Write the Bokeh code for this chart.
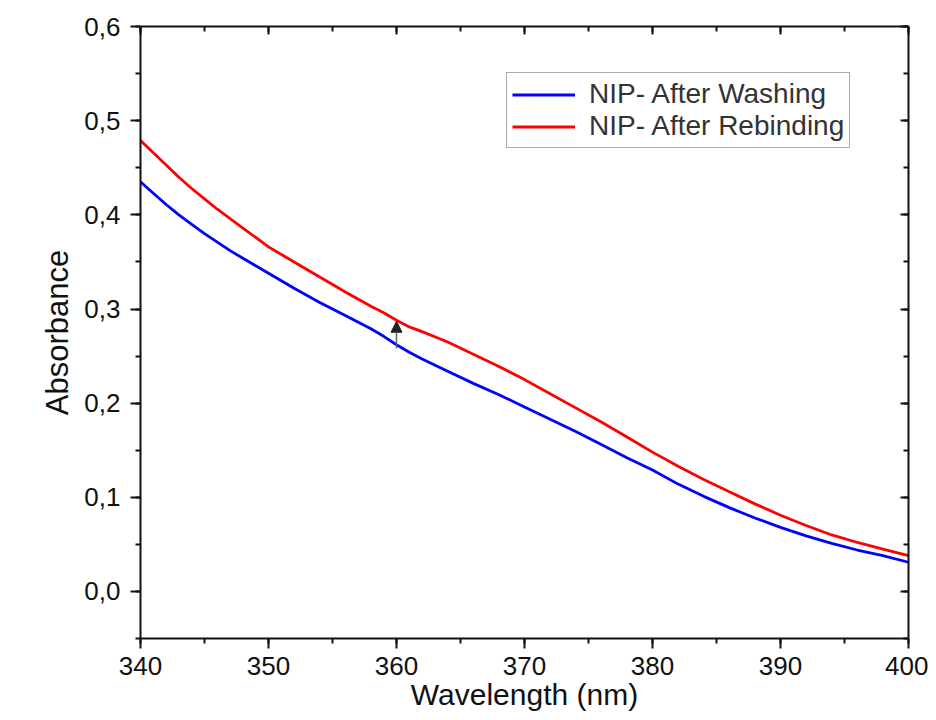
from bokeh.plotting import figure
from bokeh.models import (ColumnDataSource, Range1d, LinearAxis, SingleIntervalTicker,
                          CustomJSTickFormatter, Legend, LegendItem, Arrow, NormalHead)
from bokeh.embed import file_html
from bokeh.resources import INLINE

# ---- data ----
wavelength = [340, 341, 342, 343, 344, 345, 346, 347, 348, 349, 350, 352, 354, 356, 358, 359,
              360, 361, 362, 364, 366, 368, 370, 372, 374, 376, 378, 380, 382, 384, 386, 388,
              390, 392, 394, 396, 398, 400]
after_washing = [0.435, 0.423, 0.411, 0.400, 0.390, 0.380, 0.371, 0.362, 0.354, 0.346, 0.338,
                 0.322, 0.307, 0.293, 0.279, 0.271, 0.262, 0.254, 0.247, 0.234, 0.221, 0.209,
                 0.196, 0.183, 0.170, 0.156, 0.142, 0.129, 0.114, 0.101, 0.089, 0.078, 0.068,
                 0.059, 0.051, 0.044, 0.038, 0.031]
after_rebinding = [0.479, 0.466, 0.453, 0.440, 0.428, 0.417, 0.406, 0.396, 0.386, 0.376, 0.366,
                   0.350, 0.334, 0.318, 0.303, 0.296, 0.288, 0.281, 0.276, 0.265, 0.252, 0.239,
                   0.225, 0.210, 0.195, 0.180, 0.164, 0.148, 0.133, 0.119, 0.106, 0.093, 0.081,
                   0.070, 0.060, 0.052, 0.045, 0.038]
series_names = ["NIP- After Washing", "NIP- After Rebinding"]
arrow_x = 360
arrow_from = 0.258
arrow_to = 0.287

x_ticks_interval = 10
y_ticks_interval = 0.1

FONT = "Liberation Sans"

src = ColumnDataSource(dict(x=wavelength, wash=after_washing, rebind=after_rebinding))

p = figure(width=928, height=713, output_backend="svg", toolbar_location=None,
           x_range=Range1d(340, 400), y_range=Range1d(-0.05, 0.6001),
           min_border_left=140, min_border_right=20, min_border_top=26, min_border_bottom=60)
p.background_fill_color = "white"
p.border_fill_color = "white"
p.outline_line_color = None
p.xgrid.visible = False
p.ygrid.visible = False

r_wash = p.line("x", "wash", source=src, line_color="#0000FF", line_width=2.8)
r_reb = p.line("x", "rebind", source=src, line_color="#FF0000", line_width=2.8)

fmt = CustomJSTickFormatter(code="return tick.toFixed(1).replace('.', ',');")
xfmt = CustomJSTickFormatter(code="return tick.toFixed(0);")


def style_axis(ax, labels=True):
    ax.axis_line_width = 2
    ax.axis_line_color = "#111111"
    ax.major_tick_line_width = 2
    ax.minor_tick_line_width = 2
    ax.major_tick_line_color = "#111111"
    ax.minor_tick_line_color = "#111111"
    if labels:
        ax.major_tick_out = 10
        ax.major_tick_in = 0
        ax.minor_tick_out = 5
        ax.minor_tick_in = 0
        ax.major_label_text_font = FONT
        ax.major_label_text_font_size = "26px"
        ax.major_label_text_color = "#111111"
        ax.major_label_standoff = 8
        ax.axis_label_text_font = FONT
        ax.axis_label_text_font_size = "31px"
        ax.axis_label_text_font_style = "normal"
        ax.axis_label_text_color = "#111111"
    else:
        ax.major_tick_out = 0
        ax.major_tick_in = 8
        ax.minor_tick_out = 0
        ax.minor_tick_in = 5
        ax.major_label_text_font_size = "1px"
        ax.major_label_text_color = None
        ax.major_label_standoff = 0


xax = p.xaxis[0]
xax.ticker = SingleIntervalTicker(interval=x_ticks_interval, num_minor_ticks=2)
xax.formatter = xfmt
xax.axis_label = "Wavelength (nm)"
style_axis(xax)
xax.major_label_standoff = 8
xax.axis_label_standoff = 0
xax.axis_label_text_font_size = "30px"

yax = p.yaxis[0]
yax.ticker = SingleIntervalTicker(interval=y_ticks_interval, num_minor_ticks=2)
yax.formatter = fmt
yax.axis_label = "Absorbance"
style_axis(yax)
yax.major_label_standoff = 10
yax.axis_label_standoff = 6

top = LinearAxis(ticker=SingleIntervalTicker(interval=x_ticks_interval, num_minor_ticks=2))
style_axis(top, labels=False)
p.add_layout(top, "above")
right = LinearAxis(ticker=SingleIntervalTicker(interval=y_ticks_interval, num_minor_ticks=2))
style_axis(right, labels=False)
p.add_layout(right, "right")

p.add_layout(Arrow(end=NormalHead(size=11, fill_color="#222222", line_color="#222222", line_width=1),
                   x_start=arrow_x, y_start=arrow_from, x_end=arrow_x, y_end=arrow_to,
                   line_color="#666666", line_width=1.5))

legend = Legend(items=[LegendItem(label=series_names[0], renderers=[r_wash]),
                       LegendItem(label=series_names[1], renderers=[r_reb])],
                location=(366, 490))
legend.label_text_font = FONT
legend.label_text_font_size = "28px"
legend.label_text_color = "#333333"
legend.glyph_width = 63
legend.glyph_height = 29
legend.label_height = 29
legend.label_standoff = 14
legend.spacing = 0
legend.padding = 5
legend.margin = 0
legend.border_line_color = "#555555"
legend.border_line_width = 1.5
legend.background_fill_alpha = 1
p.add_layout(legend)

open("out.html", "w").write(file_html(p, INLINE))
